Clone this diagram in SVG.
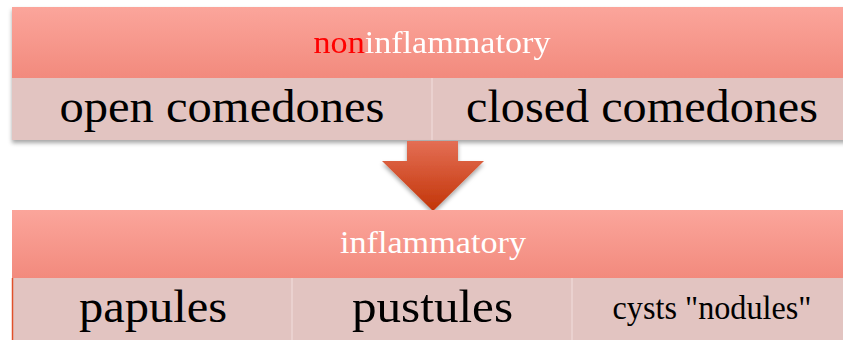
<svg xmlns="http://www.w3.org/2000/svg" width="843" height="340" viewBox="0 0 843 340">
  <defs>
    <linearGradient id="hdr" x1="0" y1="0" x2="0" y2="1">
      <stop offset="0" stop-color="#fba59b"/>
      <stop offset="1" stop-color="#f28a7d"/>
    </linearGradient>
    <linearGradient id="arr" x1="0" y1="0" x2="0" y2="1">
      <stop offset="0" stop-color="#e46e54"/>
      <stop offset="1" stop-color="#c23508"/>
    </linearGradient>
    <filter id="sh" x="-5%" y="-10%" width="110%" height="130%">
      <feDropShadow dx="0" dy="3" stdDeviation="2" flood-color="#000" flood-opacity="0.35"/>
    </filter>
  </defs>
  <style>
    .hdr { fill: url(#hdr); }
    .row { fill: #e2c4c1; }
    .div { stroke: #ecd6d3; stroke-width: 1.5; }
    .t { font-family: "Liberation Serif", "Times New Roman", serif; text-anchor: middle; }
    .ht { font-size: 32px; fill: #ffffff; }
    .big { font-size: 47px; fill: #000000; }
    .small { font-size: 34px; fill: #000000; }
  </style>
  <rect width="843" height="340" fill="#ffffff"/>

  <g id="noninflammatory" filter="url(#sh)">
    <rect class="hdr" x="12" y="7" width="840" height="71"/>
    <rect class="row" x="12" y="78" width="840" height="62"/>
    <line class="div" x1="432" y1="78" x2="432" y2="140"/>
    <text class="t ht" x="432" y="53" textLength="237" lengthAdjust="spacingAndGlyphs"><tspan fill="#ff0000">non</tspan>inflammatory</text>
  </g>
  <g id="open-comedones">
    <text class="t big" x="222" y="122" textLength="325" lengthAdjust="spacingAndGlyphs">open comedones</text>
  </g>
  <g id="closed-comedones">
    <text class="t big" x="642" y="122" textLength="352" lengthAdjust="spacingAndGlyphs">closed comedones</text>
  </g>

  <g id="connectors">
    <polygon points="407,141 458,141 458,161 484,161 433,211 382,161 407,161" fill="url(#arr)" filter="url(#sh)"/>
  </g>

  <g id="inflammatory">
    <rect class="hdr" x="12" y="210" width="840" height="68"/>
    <rect class="row" x="12" y="278" width="840" height="70"/>
    <line class="div" x1="292" y1="278" x2="292" y2="340"/>
    <line class="div" x1="572" y1="278" x2="572" y2="340"/>
    <line x1="12.5" y1="278" x2="12.5" y2="340" stroke="#e0502a" stroke-width="1.5"/>
    <text class="t ht" x="433" y="253" textLength="186" lengthAdjust="spacingAndGlyphs">inflammatory</text>
  </g>
  <g id="papules">
    <text class="t big" x="153" y="322" textLength="148" lengthAdjust="spacingAndGlyphs">papules</text>
  </g>
  <g id="pustules">
    <text class="t big" x="432.5" y="322" textLength="161" lengthAdjust="spacingAndGlyphs">pustules</text>
  </g>
  <g id="cysts">
    <text class="t small" x="712" y="319" textLength="199" lengthAdjust="spacingAndGlyphs">cysts "nodules"</text>
  </g>
</svg>
